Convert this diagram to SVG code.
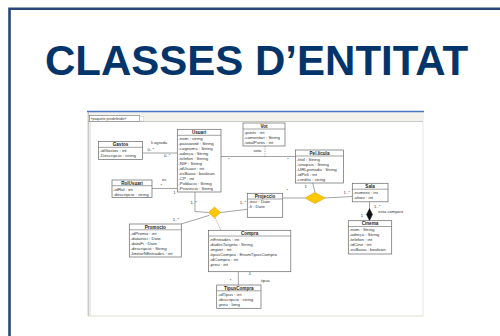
<svg xmlns="http://www.w3.org/2000/svg" width="500" height="336" viewBox="0 0 500 336">
<style>
.frame{fill:none;stroke:#27477a;stroke-width:2.6}
.title{font-family:"Liberation Sans",Arial,sans-serif;font-weight:bold;font-size:42px;fill:#03356a}
.box{fill:#fff;stroke:#666;stroke-width:0.7}
.div{stroke:#666;stroke-width:0.6}
.h{font-family:"Liberation Sans",Arial,sans-serif;font-weight:bold;font-size:4.6px;fill:#222;text-anchor:middle}
.a{font-family:"Liberation Sans",Arial,sans-serif;font-size:4.4px;fill:#333}
.l{font-family:"Liberation Sans",Arial,sans-serif;font-size:4.2px;fill:#333}
.c{fill:none;stroke:#666;stroke-width:0.6}
.d{fill:none;stroke:#666;stroke-width:0.6;stroke-dasharray:1.2,1.2}
.gold{fill:#ffc800;stroke:#c89600;stroke-width:0.5}
</style>
<rect width="500" height="336" fill="#fff"/>
<path class="frame" d="M9.5 336 V8.7 H500"/>
<text class="title" x="45" y="75">CLASSES D’ENTITAT</text>

<g id="panel">
<rect x="88" y="112" width="335" height="204" fill="#fff" stroke="#d8d8d0" stroke-width="0.6"/>
<rect x="88" y="112" width="335" height="9.5" fill="#f3f2ec"/>
<line x1="87" y1="111.5" x2="424" y2="111.5" stroke="#4a76c6" stroke-width="1.4"/>
<rect x="89.3" y="115.3" width="50" height="6.2" fill="#fff" stroke="#555" stroke-width="0.5"/>
<text x="90.5" y="120" font-family="Liberation Sans, Arial, sans-serif" font-size="3.6" fill="#333">«paquete predefinido»</text>
<rect x="139.8" y="116.5" width="4" height="5" fill="#fff" stroke="#bbb" stroke-width="0.4"/>
<text x="140.3" y="120.6" font-family="Liberation Sans, Arial, sans-serif" font-size="3" fill="#888">..</text>
<line x1="88" y1="121.5" x2="423" y2="121.5" stroke="#999" stroke-width="0.5"/>
<line x1="88.3" y1="112" x2="88.3" y2="316" stroke="#999" stroke-width="0.6"/>
<line x1="90" y1="121.5" x2="90" y2="316" stroke="#aaa" stroke-width="0.5"/>
<line x1="88" y1="316" x2="423" y2="316" stroke="#ebe8da" stroke-width="1"/>
</g>

<g id="connectors">
<line class="c" x1="142.5" y1="153" x2="177.3" y2="153"/>
<text class="l" x="151" y="143.5">li agrada</text>
<text class="l" x="147.5" y="150.5">0..*</text>
<text class="l" x="164" y="157">0..*</text>
<line class="c" x1="152" y1="188.5" x2="177.3" y2="188.5"/>
<text class="l" x="162" y="181">es</text>
<text class="l" x="160.5" y="187">*</text>
<text class="l" x="173.3" y="193.5">1</text>
<line class="c" x1="221" y1="156.5" x2="295.5" y2="156.5"/>
<text class="l" x="228" y="161">*</text>
<text class="l" x="287" y="161">*</text>
<line class="d" x1="265" y1="146" x2="265" y2="156.5"/>
<text class="l" x="253.5" y="151.5">vota</text>
<line class="c" x1="305" y1="198" x2="282.7" y2="198"/>
<line class="c" x1="315" y1="192.5" x2="312.7" y2="183"/>
<line class="c" x1="325" y1="198" x2="352.3" y2="196.5"/>
<text class="l" x="304.5" y="188">1</text>
<text class="l" x="343.5" y="194">1..*</text>
<text class="l" x="286.5" y="192">*</text>
<polygon class="gold" points="305,198 315,192.5 325,198 315,203.5"/>
<line class="c" x1="369.5" y1="201.8" x2="369.5" y2="209"/>
<polygon points="369.5,208.5 372.5,214.6 369.5,220.7 366.5,214.6" fill="#111" stroke="#111" stroke-width="0.4"/>
<text class="l" x="374" y="207.5">1..*</text>
<text class="l" x="378.3" y="212.8">esta compost</text>
<text class="l" x="360.8" y="217">1</text>
<polyline class="c" points="195,192 195,211.5 208.5,212.5"/>
<line class="c" x1="220.5" y1="212.5" x2="247.3" y2="209.3"/>
<line class="c" x1="209.5" y1="215.3" x2="181" y2="224"/>
<line class="d" x1="215" y1="218" x2="221" y2="230.3"/>
<text class="l" x="190.5" y="203.5">1..*</text>
<text class="l" x="239.8" y="204">1..*</text>
<text class="l" x="172.8" y="221">1..*</text>
<polygon class="gold" points="208.5,212.5 214.5,207 220.5,212.5 214.5,218"/>
<line class="c" x1="238.3" y1="271.7" x2="238.3" y2="285"/>
<text class="l" x="248.8" y="275">1</text>
<text class="l" x="229.8" y="282">*</text>
<text class="l" x="261" y="281.8">tipus</text>
</g>

<g id="Gastos">
<rect class="box" x="98.5" y="141.5" width="44" height="18"/>
<line class="div" x1="98.5" y1="147.3" x2="142.5" y2="147.3"/>
<text class="h" x="120.5" y="146">Gastos</text>
<text class="a" x="99.5" y="152.1">-idGastos : int</text>
<text class="a" x="99.5" y="157.1">-Descripcio : string</text>
</g>

<g id="Usuari">
<rect class="box" x="177.3" y="129.3" width="43.7" height="62.7"/>
<line class="div" x1="177.3" y1="135.3" x2="221" y2="135.3"/>
<text class="h" x="199.1" y="134">Usuari</text>
<text class="a" x="178.3" y="140.1">-nom : string</text>
<text class="a" x="178.3" y="145.1">-password : String</text>
<text class="a" x="178.3" y="150.1">-cognoms : String</text>
<text class="a" x="178.3" y="155.1">-adreça : String</text>
<text class="a" x="178.3" y="160.1">-telefon : String</text>
<text class="a" x="178.3" y="165.1">-NIF : String</text>
<text class="a" x="178.3" y="170.1">-idUsuari : int</text>
<text class="a" x="178.3" y="175.1">-esBaixa : boolean</text>
<text class="a" x="178.3" y="180.1">-CP : int</text>
<text class="a" x="178.3" y="185.1">-Poblacio : String</text>
<text class="a" x="178.3" y="190.1">-Provincia : String</text>
</g>

<g id="Vot">
<rect class="box" x="243" y="123" width="42" height="23"/>
<line class="div" x1="243" y1="129" x2="285" y2="129"/>
<text class="h" x="264" y="127.8">Vot</text>
<text class="a" x="244" y="133.6">-punts : int</text>
<text class="a" x="244" y="138.6">-comentari : String</text>
<text class="a" x="244" y="143.6">-totalPunts : int</text>
</g>

<g id="Pellicula">
<rect class="box" x="295.5" y="150" width="48" height="33"/>
<line class="div" x1="295.5" y1="156" x2="343.5" y2="156"/>
<text class="h" x="319.5" y="154.7">Pel.licula</text>
<text class="a" x="296.5" y="160.8">-titol : String</text>
<text class="a" x="296.5" y="165.8">-sinopsis : String</text>
<text class="a" x="296.5" y="170.8">-URLportada : String</text>
<text class="a" x="296.5" y="175.8">-idPeli : int</text>
<text class="a" x="296.5" y="180.8">-credits : string</text>
</g>

<g id="Sala">
<rect class="box" x="352.3" y="183.3" width="35.7" height="18.5"/>
<line class="div" x1="352.3" y1="189.2" x2="388" y2="189.2"/>
<text class="h" x="370.1" y="188">Sala</text>
<text class="a" x="353.3" y="194">-numero : int</text>
<text class="a" x="353.3" y="199">-aforo : int</text>
</g>

<g id="Cinema">
<rect class="box" x="348.3" y="220.7" width="43.4" height="33.3"/>
<line class="div" x1="348.3" y1="226.5" x2="391.7" y2="226.5"/>
<text class="h" x="370" y="225.3">Cinema</text>
<text class="a" x="349.3" y="231.3">-nom : String</text>
<text class="a" x="349.3" y="236.3">-adreça : String</text>
<text class="a" x="349.3" y="241.3">-telefon : int</text>
<text class="a" x="349.3" y="246.3">-idCine : int</text>
<text class="a" x="349.3" y="251.3">-esBaixa : boolean</text>
</g>

<g id="Projeccio">
<rect class="box" x="247.3" y="193.3" width="35.4" height="24"/>
<line class="div" x1="247.3" y1="199" x2="282.7" y2="199"/>
<text class="h" x="265" y="197.8">Projeccio</text>
<text class="a" x="248.3" y="203.2">-inici : Date</text>
<text class="a" x="248.3" y="208">-fi : Date</text>
</g>

<g id="Promocio">
<rect class="box" x="129.3" y="224" width="52" height="33"/>
<line class="div" x1="129.3" y1="229.8" x2="181.3" y2="229.8"/>
<text class="h" x="155.3" y="228.6">Promocio</text>
<text class="a" x="130.3" y="234.6">-idPromo : int</text>
<text class="a" x="130.3" y="239.6">-datainici : Date</text>
<text class="a" x="130.3" y="244.6">-dataFi : Date</text>
<text class="a" x="130.3" y="249.6">-descripcio : String</text>
<text class="a" x="130.3" y="254.6">-limitarNEntrades : int</text>
</g>

<g id="Compra">
<rect class="box" x="208.4" y="230.3" width="82.4" height="41.4"/>
<line class="div" x1="208.4" y1="236" x2="290.8" y2="236"/>
<text class="h" x="249.6" y="234.8">Compra</text>
<text class="a" x="209.4" y="240.8">-nEntrades : int</text>
<text class="a" x="209.4" y="245.8">-dadesTargeta : String</text>
<text class="a" x="209.4" y="250.8">-import : int</text>
<text class="a" x="209.4" y="255.8">-tipusCompra : EnumTipusCompra</text>
<text class="a" x="209.4" y="260.8">-idCompra : int</text>
<text class="a" x="209.4" y="265.8">-preu : int</text>
</g>

<g id="TipusCompra">
<rect class="box" x="216.7" y="285" width="44.3" height="23.3"/>
<line class="div" x1="216.7" y1="290.8" x2="261" y2="290.8"/>
<text class="h" x="238.85" y="289.6">TipusCompra</text>
<text class="a" x="217.7" y="295.6">-idTipus : int</text>
<text class="a" x="217.7" y="300.6">-descripcio : string</text>
<text class="a" x="217.7" y="305.6">-preu : long</text>
</g>

<g id="RolUsuari">
<rect class="box" x="112" y="180" width="40" height="17.5"/>
<line class="div" x1="112" y1="185.7" x2="152" y2="185.7"/>
<text class="h" x="132" y="184.5">RolUsuari</text>
<text class="a" x="113" y="190.5">-idRol : int</text>
<text class="a" x="113" y="195.5">-descripcio : string</text>
</g>
</svg>
